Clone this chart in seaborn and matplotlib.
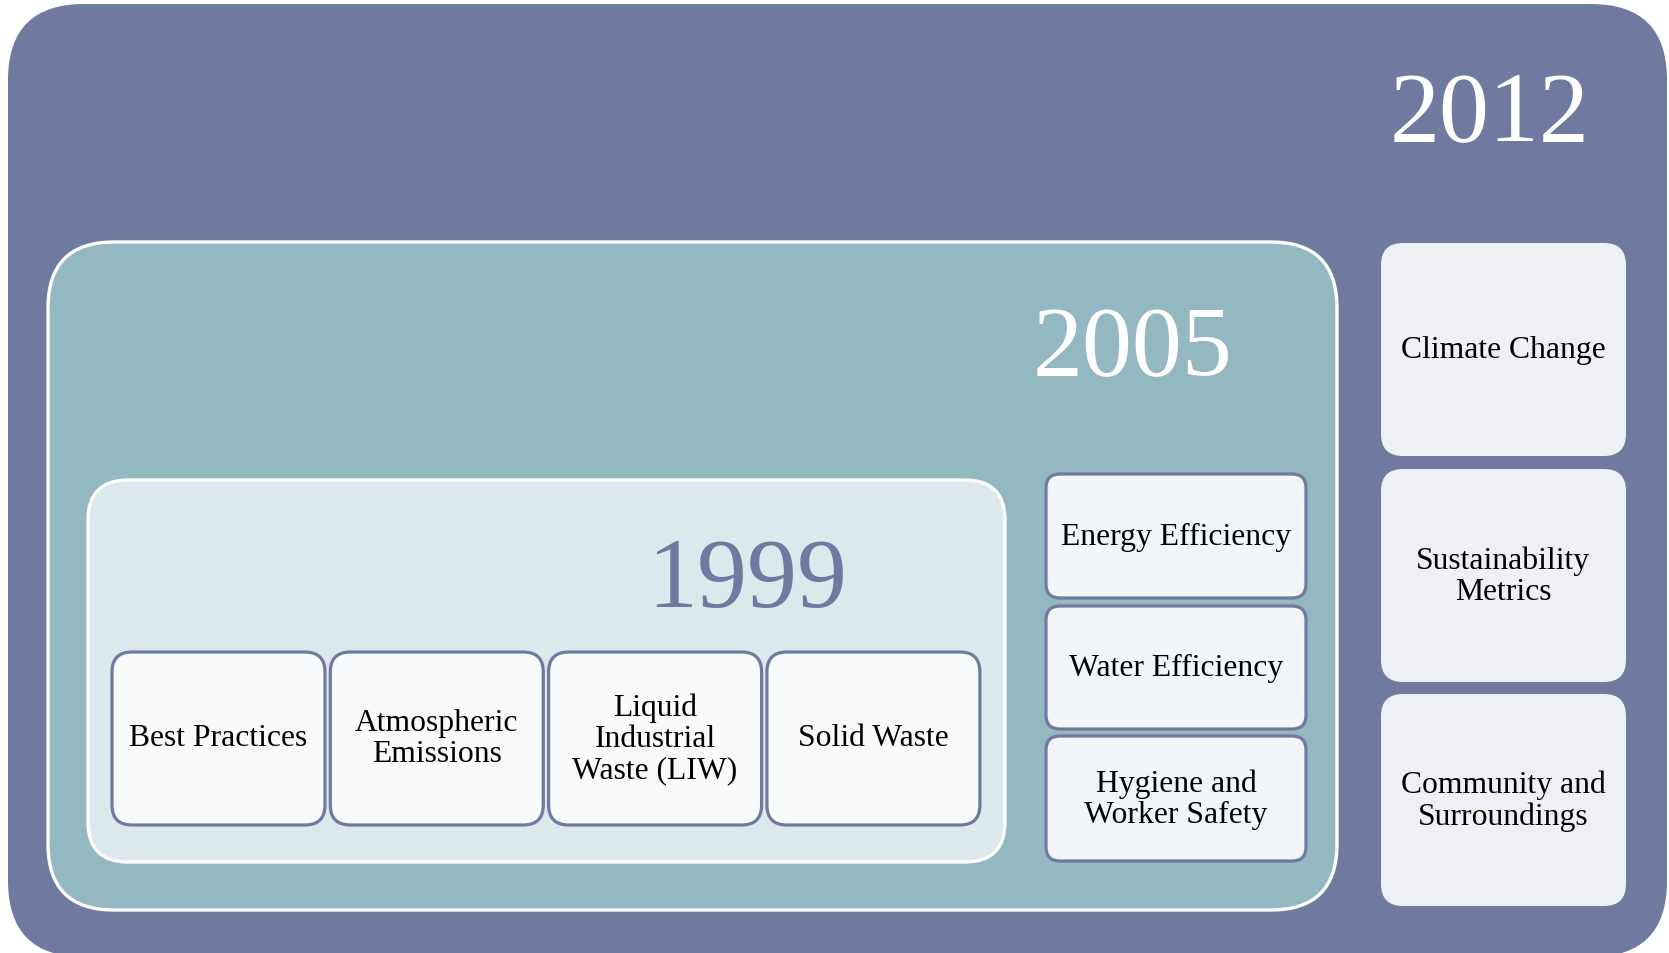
import matplotlib.pyplot as plt
import seaborn as sns
from matplotlib.patches import FancyBboxPatch

# === Chart content ===
years = ["2012", "2005", "1999"]
labels_1999 = ["Best Practices", "Atmospheric\nEmissions", "Liquid\nIndustrial\nWaste (LIW)", "Solid Waste"]
labels_2005 = ["Energy Efficiency", "Water Efficiency", "Hygiene and\nWorker Safety"]
labels_2012 = ["Climate Change", "Sustainability\nMetrics", "Community and\nSurroundings"]

# === Colours ===
slate = "#7079a0"
teal = "#94b8c2"
pale = "#dde8ec"
card_1999 = "#f8fafc"
card_2005 = "#f2f6f8"
card_2012 = "#eef0f4"

sns.set_style("white")
plt.rcParams["font.family"] = ["Liberation Serif", "DejaVu Serif"]

W, H = 1669, 954
fig = plt.figure(figsize=(W / 100, H / 100), dpi=100)
ax = fig.add_axes([0, 0, 1, 1])
ax.set_xlim(0, W)
ax.set_ylim(H, 0)
ax.axis("off")


def box(x0, y0, x1, y1, r, fc, ec="none", lw=0, z=1):
    p = FancyBboxPatch((x0, y0), x1 - x0, y1 - y0,
                       boxstyle=f"round,pad=0,rounding_size={r}",
                       fc=fc, ec=ec, lw=lw, zorder=z)
    ax.add_patch(p)


def label(x, y, s, size=22.8, color="black", z=5, va="center"):
    ax.text(x, y, s, ha="center", va=va, fontsize=size, color=color,
            linespacing=1.1, zorder=z)


# outer 2012 frame
box(8, 5, 1667, 958, 76, slate, z=1)
label(1490, 140, years[0], size=72, color="white", va="baseline")

# 2005 frame
box(48, 243, 1337, 911, 66, teal, ec="white", lw=2.4, z=2)
label(1132, 375, years[1], size=72, color="white", va="baseline")

# 1999 frame
box(88, 481, 1005, 863, 40, pale, ec="white", lw=2.4, z=3)
label(747, 607, years[2], size=72, color=slate, va="baseline")

# 1999 cards
x_left, card_w, gap = 112, 213, 5.3
for i, s in enumerate(labels_1999):
    x0 = x_left + i * (card_w + gap)
    box(x0, 653, x0 + card_w, 826, 20, card_1999, ec=slate, lw=2.3, z=4)
    label(x0 + card_w / 2, 739, s)

# 2005 cards
rows_2005 = [(475, 599), (607, 730), (737, 862)]
for (y0, y1), s in zip(rows_2005, labels_2005):
    box(1046, y0, 1306, y1, 14, card_2005, ec=slate, lw=2.3, z=4)
    label(1176, (y0 + y1) / 2, s)

# 2012 cards
rows_2012 = [(244, 457), (470, 683), (695, 907)]
for (y0, y1), s in zip(rows_2012, labels_2012):
    box(1381, y0, 1626, y1, 22, card_2012, z=4)
    label(1503, (y0 + y1) / 2, s)

fig.savefig("out.png", dpi=100, facecolor="white")
